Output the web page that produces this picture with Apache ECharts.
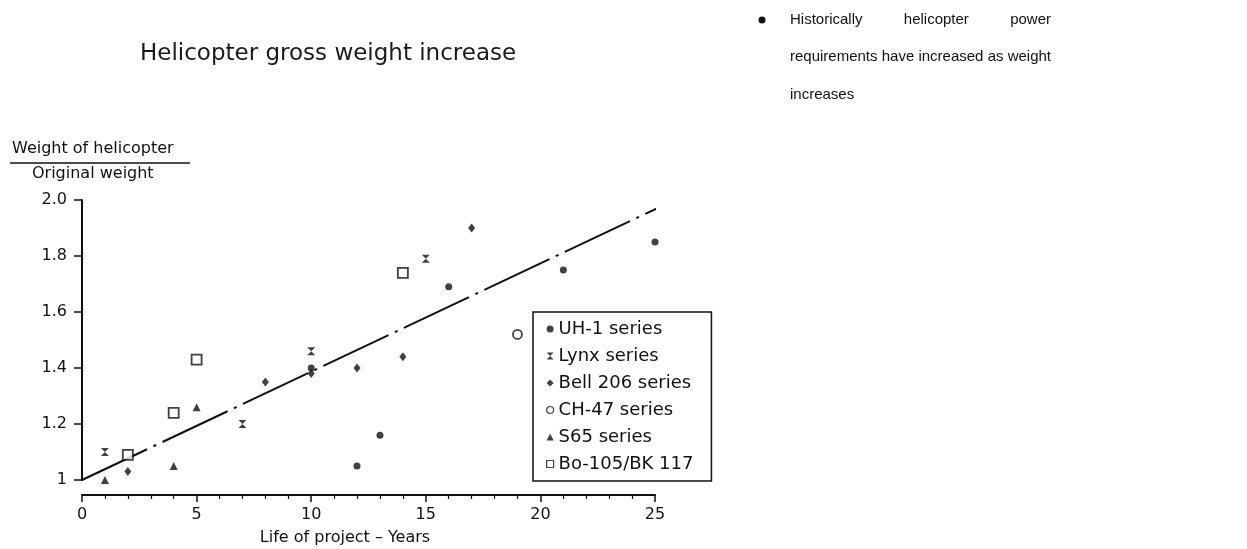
<!DOCTYPE html>
<html>
<head>
<meta charset="utf-8">
<script src="https://cdn.jsdelivr.net/npm/echarts@6/dist/echarts.min.js"></script>
<style>
  html, body { margin: 0; padding: 0; background: #fff; }
  #chart { width: 1247px; height: 549px; }
</style>
</head>
<body>
<div id="chart"></div>
<script>
// values: [years, weight / original weight]
var uh1 = [[10, 1.40], [12, 1.05], [13, 1.16], [16, 1.69], [21, 1.75], [25, 1.85]]
var lynx = [[1, 1.10], [7, 1.20], [10, 1.46], [15, 1.79]]
var bell206 = [[2, 1.03], [8, 1.35], [10, 1.38], [12, 1.40], [14, 1.44], [17, 1.90]]
var ch47 = [[19, 1.52]]
var s65 = [[1, 1.00], [4, 1.05], [5, 1.26]]
var bo105 = [[2, 1.09], [4, 1.24], [5, 1.43], [14, 1.74]]
var trend = [[0, 1.00], [25.6, 1.99]]

var seriesNames = ['UH-1 series', 'Lynx series', 'Bell 206 series', 'CH-47 series', 'S65 series', 'Bo-105/BK 117']
var yTicks = [1, 1.2, 1.4, 1.6, 1.8, 2.0]

var paraLine1 = ['Historically', 'helicopter', 'power']
var paraLine2 = ['requirements', 'have', 'increased', 'as', 'weight']
var paraLine3 = 'increases'

var ink = '#111'
var font = 'DejaVu Sans'
var noteFont = '15px "Liberation Sans"'
var hourglass = 'path://M0,0L10,0L0,10L10,10Z'

var myChart = echarts.init(document.getElementById('chart'))

function scatter (name, data, symbol, size, empty) {
  return {
    name: name,
    type: 'scatter',
    data: data,
    symbol: symbol,
    symbolSize: size,
    itemStyle: empty
      ? { color: '#fff', borderColor: ink, borderWidth: 1.8 }
      : { color: ink },
    z: 3
  }
}

// side note, justified between x0 and x1 like the slide text
function noteLine (words, y, x0, x1) {
  var ctx = document.createElement('canvas').getContext('2d')
  ctx.font = noteFont
  var widths = words.map(function (w) { return ctx.measureText(w).width })
  var total = widths.reduce(function (a, b) { return a + b }, 0)
  var gap = Math.max(4, (x1 - x0 - total) / (words.length - 1))
  var x = x0
  return words.map(function (w, i) {
    var el = { type: 'text', x: x, y: y, style: { text: w, font: noteFont, fill: ink, verticalAlign: 'middle' } }
    x += widths[i] + gap
    return el
  })
}

var option = {
  backgroundColor: '#fff',
  animation: false,
  textStyle: { fontFamily: font, color: ink },
  title: {
    text: 'Helicopter gross weight increase',
    left: 135,
    top: 38,
    textStyle: { fontFamily: font, fontSize: 23, fontWeight: 'normal', color: '#1a1a1a' }
  },
  grid: { left: 82, right: 592, top: 200, bottom: 69 },
  xAxis: {
    type: 'value',
    min: 0,
    max: 25,
    interval: 5,
    offset: 15,
    axisLine: { onZero: false, lineStyle: { color: ink, width: 2 } },
    axisTick: { length: 7, lineStyle: { color: ink, width: 1.5 } },
    minorTick: { show: true, splitNumber: 5, length: 4, lineStyle: { color: ink, width: 1.2 } },
    axisLabel: { margin: 12, fontSize: 16, color: ink, fontFamily: font },
    splitLine: { show: false }
  },
  yAxis: {
    type: 'value',
    min: 1,
    max: 2,
    interval: 0.2,
    axisLine: { show: true, lineStyle: { color: ink, width: 2 } },
    axisTick: { show: true, length: 8, lineStyle: { color: ink, width: 1.5 } },
    axisLabel: {
      margin: 15,
      fontSize: 16,
      color: ink,
      fontFamily: font,
      formatter: function (v) {
        var t = yTicks.find(function (k) { return Math.abs(k - v) < 1e-6 })
        return t === 1 ? '1' : t.toFixed(1)
      }
    },
    splitLine: { show: false }
  },
  legend: {
    orient: 'vertical',
    left: 533,
    top: 312,
    data: seriesNames,
    backgroundColor: '#fff',
    borderColor: ink,
    borderWidth: 1.5,
    borderRadius: 0,
    padding: [8, 18, 8, 13],
    itemGap: 9,
    itemWidth: 7,
    itemHeight: 7,
    itemStyle: { borderWidth: 1.2 },
    textStyle: { fontFamily: font, fontSize: 18, lineHeight: 17, color: ink },
    selectedMode: false
  },
  series: [
    scatter(seriesNames[0], uh1, 'circle', 7, false),
    scatter(seriesNames[1], lynx, hourglass, 8, false),
    scatter(seriesNames[2], bell206, 'diamond', [7, 9], false),
    scatter(seriesNames[3], ch47, 'circle', 9, true),
    scatter(seriesNames[4], s65, 'triangle', 8, false),
    scatter(seriesNames[5], bo105, 'rect', 10, true),
    {
      name: 'trend',
      type: 'line',
      data: trend,
      symbol: 'none',
      clip: false,
      lineStyle: { color: ink, width: 2, type: [72, 7, 3, 7] },
      z: 2
    }
  ],
  graphic: [
    // y-axis ratio label
    { type: 'text', left: 12, top: 141, style: { text: 'Weight of helicopter', font: '16px "DejaVu Sans"', fill: ink } },
    { type: 'line', shape: { x1: 10, y1: 163, x2: 190, y2: 163 }, style: { stroke: ink, lineWidth: 1.5 } },
    { type: 'text', left: 32, top: 166, style: { text: 'Original weight', font: '16px "DejaVu Sans"', fill: ink } },
    // x-axis name
    { type: 'text', x: 345, y: 538, style: { text: 'Life of project \u2013 Years', font: '16px "DejaVu Sans"', fill: ink, align: 'center', verticalAlign: 'middle' } },
    // side note
    { type: 'circle', shape: { cx: 762, cy: 20, r: 3.5 }, style: { fill: ink } }
  ]
    .concat(noteLine(paraLine1, 20, 790, 1051))
    .concat(noteLine(paraLine2, 57, 790, 1051))
    .concat([{ type: 'text', x: 790, y: 95, style: { text: paraLine3, font: noteFont, fill: ink, verticalAlign: 'middle' } }])
}

myChart.setOption(option)
</script>
</body>
</html>
